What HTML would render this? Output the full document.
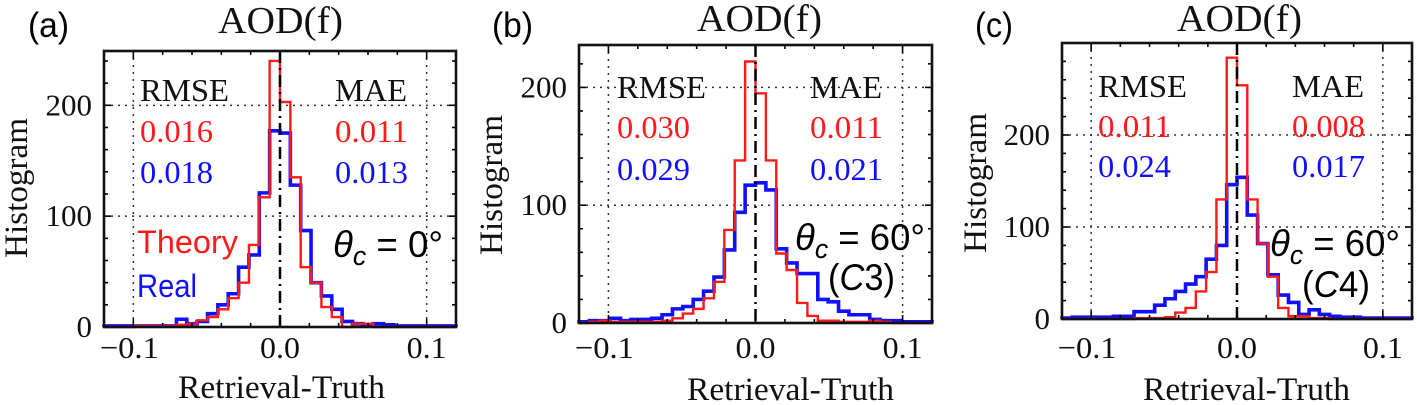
<!DOCTYPE html>
<html><head><meta charset="utf-8"><style>
html,body{margin:0;padding:0;background:#fff;width:1417px;height:405px;overflow:hidden}
svg{display:block}
.serif{font-family:"Liberation Serif",serif}
.sans{font-family:"Liberation Sans","DejaVu Sans",sans-serif}
</style></head><body>
<svg id="fig" width="1417" height="405" xmlns="http://www.w3.org/2000/svg"></svg>
<script>
// shared bins: 34 bins over [-0.12, 0.12]
const binCount = 34;
const xMin = -0.12, xMax = 0.12;
const xTickValues = [-0.1, 0, 0.1];
const xTickLabels = ["\u22120.1", "0.0", "0.1"];
// panel a
const theoryA = [0,0,0,1,1,1,1,2,3,6,9,16,26,40,74,117,240,203,135,54,40,18,9,0,3,3,0,0,0,0,0,0,0,0];
const realA   = [1,1,1,1,1,1,1,7,3,5,12,20,30,54,65,121,177,175,128,87,40,28,16,5,3,2,3,2,1,1,1,1,1,1];
// panel b
const theoryB = [0,1,2,1,1,1,1,1,2,4,8,12,21,35,79,138,222,195,138,59,45,17,6,2,2,1,1,1,2,1,0,0,0,0];
const realB   = [1,2,2,4,2,3,3,4,7,12,14,20,27,39,62,94,117,119,113,63,51,42,42,20,18,10,7,7,3,2,2,1,1,1];
// panel c
const theoryC = [0,0,0,0,0,0,0,1,1,1,2,7,12,30,51,130,284,254,130,82,46,12,3,3,1,1,0,0,0,0,0,0,0,0];
const realC   = [1,2,2,2,2,3,3,8,8,15,22,30,38,46,65,80,146,154,113,82,48,26,18,5,10,5,3,2,2,1,1,1,1,1];
const yTicksA = [0,100,200], yTicksB = [0,100,200], yTicksC = [0,100,200];
const rmseTheory = ["0.016","0.030","0.011"], rmseReal = ["0.018","0.029","0.024"];
const maeTheory = ["0.011","0.011","0.008"], maeReal = ["0.013","0.021","0.017"];

const NS = "http://www.w3.org/2000/svg";
const svg = document.getElementById('fig');
function mk(tag, attrs, parent, text){
  const e = document.createElementNS(NS, tag);
  for (const k in attrs) e.setAttribute(k, attrs[k]);
  if (text !== undefined) e.textContent = text;
  (parent||svg).appendChild(e);
  return e;
}
function txt(parent, x, y, str, size, cls, fill, len, anchor){
  const a = {x:x, y:y, 'font-size':size, class:cls, fill:fill};
  if (anchor) a['text-anchor'] = anchor;
  if (len) { a.textLength = len; a.lengthAdjust = 'spacingAndGlyphs'; }
  return mk('text', a, parent, str);
}

const panels = [
 {id:'a', L:104, R:456, T:51, B:327, yMax:249, theory:theoryA, real:realA, yt:yTicksA,
  lbl:[28,37], title:[218,33], ylab:[27,188], xlab:[178,398],
  rm:[140,101], ma:[335,101], v1:142, v2:183, theta:[333,257,110], sub:null},
 {id:'b', L:579, R:932, T:45, B:323, yMax:236, theory:theoryB, real:realB, yt:yTicksB,
  lbl:[492,37], title:[697,31], ylab:[502,185], xlab:[687,400],
  rm:[617,98], ma:[810,98], v1:138, v2:180, theta:[795,250,130], sub:[828,290,67,'3']},
 {id:'c', L:1062, R:1412, T:43, B:319, yMax:300, theory:theoryC, real:realC, yt:yTicksC,
  lbl:[975,37], title:[1177,31], ylab:[986,183], xlab:[1143,400],
  rm:[1098,97], ma:[1292,97], v1:137, v2:177, theta:[1270,256,130], sub:[1302,297,68,'4']}
];

panels.forEach((p, pi) => {
  const g = mk('g', {});
  
  
  const sx = v => p.L + (v - xMin) / (xMax - xMin) * (p.R - p.L);
  const sy = v => p.B - v / p.yMax * (p.B - p.T);

  p.yt.forEach(t => { if (t > 0) {
    const l = mk('line', {x1:p.L, x2:p.R, y1:sy(t), y2:sy(t), stroke:'#333', 'stroke-width':1.5, 'stroke-dasharray':'2 5'}, g);
     
  }});
  xTickValues.forEach(t => { if (t !== 0) {
    const l = mk('line', {x1:sx(t), x2:sx(t), y1:p.T, y2:p.B, stroke:'#333', 'stroke-width':1.5, 'stroke-dasharray':'2 5'}, g);
     
  }});

  const w = (xMax - xMin) / binCount;
  function step(arr, color, width, name){
    let d = 'M' + sx(xMin) + ',' + sy(0);
    arr.forEach((v, i) => {
      d += ' L' + sx(xMin + i*w) + ',' + sy(v) + ' L' + sx(xMin + (i+1)*w) + ',' + sy(v);
    });
    d += ' L' + sx(xMax) + ',' + sy(0);
    const path = mk('path', {d:d, fill:'none', stroke:color, 'stroke-width':width}, g);
    
    
  }
  step(p.real, '#1010ff', 3.6, 'real-histogram');
  step(p.theory, '#ff1a1a', 2.4, 'theory-histogram');

  const z = mk('line', {x1:sx(0), x2:sx(0), y1:p.T, y2:p.B, stroke:'#000', 'stroke-width':2.5, 'stroke-dasharray':'12 5 2 5'}, g);
   

  for (let v = 0; v <= p.yMax; v += 20) {
    const len = (v % 100 === 0) ? 7 : 4;
    mk('line', {x1:p.L, x2:p.L+len, y1:sy(v), y2:sy(v), stroke:'#000', 'stroke-width':1.6}, g);
    mk('line', {x1:p.R, x2:p.R-len, y1:sy(v), y2:sy(v), stroke:'#000', 'stroke-width':1.6}, g);
  }
  for (let k = -6; k <= 6; k++) {
    const v = k * 0.02; const len = (k % 5 === 0) ? 8 : 4;
    mk('line', {x1:sx(v), x2:sx(v), y1:p.B, y2:p.B-len, stroke:'#000', 'stroke-width':1.6}, g);
    mk('line', {x1:sx(v), x2:sx(v), y1:p.T, y2:p.T+len, stroke:'#000', 'stroke-width':1.6}, g);
  }

  const fr = mk('rect', {x:p.L, y:p.T, width:p.R-p.L, height:p.B-p.T, fill:'none', stroke:'#111', 'stroke-width':2.6}, g);
   

  p.yt.forEach(t => {
    const s = String(t);
    const tx = txt(g, p.L-12, sy(t)+10, s, 31, 'serif', '#111', s.length*15.5, 'end');
     
  });
  xTickValues.forEach((t, i) => {
    const lens = [59, 40, 40];
    const tx = txt(g, sx(t) + (i===0 ? -4 : 0), 358, xTickLabels[i], 31, 'serif', '#111', lens[i], 'middle');
     
  });

  let t = txt(g, p.title[0], p.title[1], 'AOD(f)', 38, 'serif', '#111', 125);
   
  t = txt(g, p.lbl[0], p.lbl[1], '(' + p.id + ')', 35, 'sans', '#000', p.id==='c'?38:41);
   
  t = mk('text', {x:p.ylab[0], y:p.ylab[1], transform:'rotate(-90 ' + p.ylab[0] + ' ' + p.ylab[1] + ')', 'text-anchor':'middle', 'font-size':33, class:'serif', fill:'#111', textLength:140, lengthAdjust:'spacingAndGlyphs'}, g, 'Histogram');
   
  t = txt(g, p.xlab[0], p.xlab[1], 'Retrieval-Truth', 33, 'serif', '#111', 207);
   

  t = txt(g, p.rm[0], p.rm[1], 'RMSE', 32, 'serif', '#111', 89);
   
  t = txt(g, p.ma[0], p.ma[1], 'MAE', 32, 'serif', '#111', 72);
   
  t = txt(g, p.rm[0], p.v1, rmseTheory[pi], 32, 'serif', '#ff1a1a', 73);
   
  t = txt(g, p.rm[0], p.v2, rmseReal[pi], 32, 'serif', '#1010ff', 73);
   
  t = txt(g, p.ma[0], p.v1, maeTheory[pi], 32, 'serif', '#ff1a1a', 73);
   
  t = txt(g, p.ma[0], p.v2, maeReal[pi], 32, 'serif', '#1010ff', 73);
   

  t = mk('text', {x:p.theta[0], y:p.theta[1], 'font-size':37, class:'sans', fill:'#000', textLength:p.theta[2], lengthAdjust:'spacingAndGlyphs'}, g);
   
  mk('tspan', {'font-style':'italic'}, t, '\u03B8');
  mk('tspan', {'font-style':'italic', 'font-size':27, dy:8}, t, 'c');
  mk('tspan', {dy:-8}, t, ' = ' + (p.id === 'a' ? '0' : '60') + '\u00B0');
  if (p.sub) {
    t = mk('text', {x:p.sub[0], y:p.sub[1], 'font-size':37, class:'sans', fill:'#000', textLength:p.sub[2], lengthAdjust:'spacingAndGlyphs'}, g);
     
    mk('tspan', {}, t, '(');
    mk('tspan', {'font-style':'italic'}, t, 'C');
    mk('tspan', {}, t, p.sub[3] + ')');
  }
  if (p.id === 'a') {
    t = txt(g, 137, 253, 'Theory', 32, 'sans', '#ff1a1a', 101);
     
    t = txt(g, 137, 297, 'Real', 32, 'sans', '#1010ff', 60);
     
  }
});
</script>
</body></html>
